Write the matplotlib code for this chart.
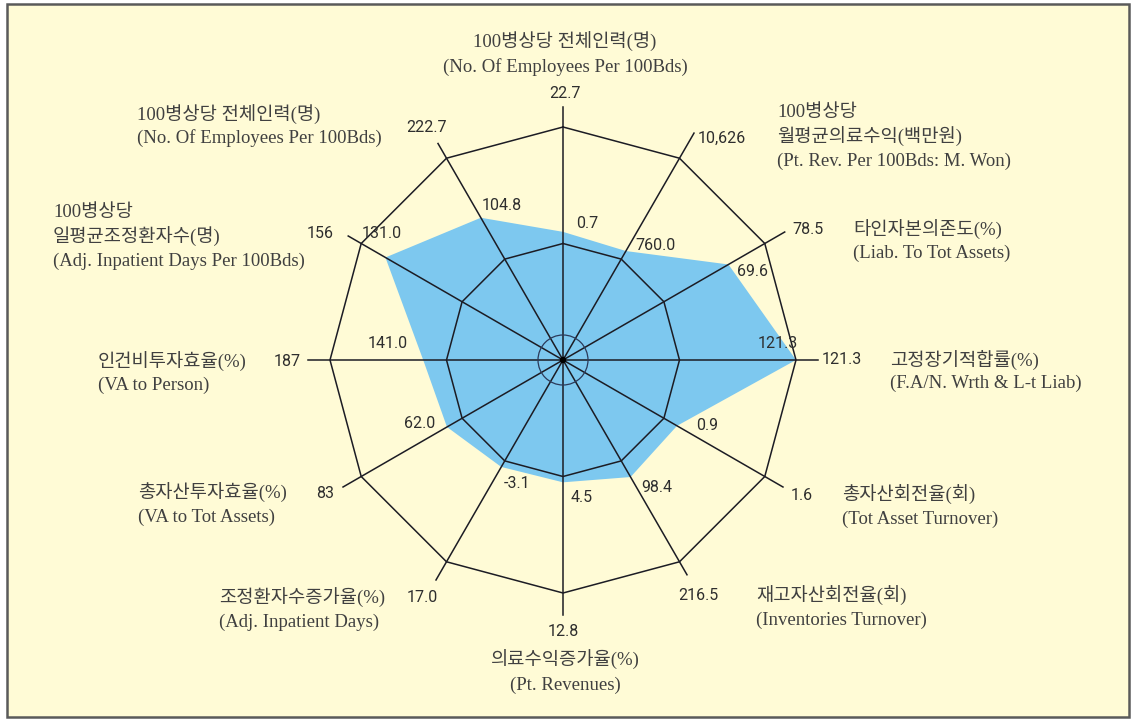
import numpy as np
import matplotlib.pyplot as plt
from matplotlib.patches import Rectangle, Circle

# 12 axes, clockwise from the top
outer_labels = ["22.7", "10,626", "78.5", "121.3", "1.6", "216.5",
                "12.8", "17.0", "83", "187", "156", "222.7"]
inner_labels = ["0.7", "760.0", "69.6", "121.3", "0.9", "98.4",
                "4.5", "-3.1", "62.0", "141.0", "131.0", "104.8"]
# position of the blue polygon on each axis (1 = outer ring)
scores = [0.55, 0.54, 0.82, 1.00, 0.565, 0.58, 0.525, 0.53, 0.575, 0.60, 0.88, 0.705]

categories = [
    ["100병상당 전체인력(명)", "(No. Of Employees Per 100Bds)"],
    ["100병상당", "월평균의료수익(백만원)", "(Pt. Rev. Per 100Bds: M. Won)"],
    ["타인자본의존도(%)", "(Liab. To Tot Assets)"],
    ["고정장기적합률(%)", "(F.A/N. Wrth & L-t Liab)"],
    ["총자산회전율(회)", "(Tot Asset Turnover)"],
    ["재고자산회전율(회)", "(Inventories Turnover)"],
    ["의료수익증가율(%)", "(Pt. Revenues)"],
    ["조정환자수증가율(%)", "(Adj. Inpatient Days)"],
    ["총자산투자효율(%)", "(VA to Tot Assets)"],
    ["인건비투자효율(%)", "(VA to Person)"],
    ["100병상당", "일평균조정환자수(명)", "(Adj. Inpatient Days Per 100Bds)"],
    ["100병상당 전체인력(명)", "(No. Of Employees Per 100Bds)"],
]

# layout (pixels)
W, H = 1132, 720
CX, CY, R = 563, 360, 233
spoke_len = [253, 262, 256, 255, 254, 248, 255, 254, 254, 255, 248, 250]
outer_pos = [(565, 93), (722, 138), (808, 230), (842, 360), (802, 495), (698, 596),
             (563, 632), (422, 598), (325, 493), (287, 361), (320, 233), (427, 127)]
inner_pos = [(587, 223), (655, 245), (752, 272), (778, 343), (707, 426), (657, 488),
             (582, 498), (517, 483), (420, 423), (388, 343), (382, 234), (502, 205)]
cat_pos = [(565, 42, "center"), (777, 113, "left"), (853, 230, "left"), (890, 360, "left"),
           (842, 495, "left"), (756, 596, "left"), (565, 660, "center"), (219, 598, "left"),
           (138, 493, "left"), (98, 362, "left"), (53, 213, "left"), (137, 115, "left")]
line_step = [25, 24, 23, 23, 24, 24, 25, 24, 24, 23, 24, 23]

BG = "#FFFBD6"
BLUE = "#7DC8EF"
INK = "#1c1c24"
TXT = "#2e2e2e"
serif_kr = ["Liberation Serif", "Noto Sans CJK KR"]

n = len(scores)
theta = np.deg2rad(np.arange(n) * 360 / n)
sx, sy = np.sin(theta), -np.cos(theta)


def to_xy(r):
    r = np.asarray(r, dtype=float)
    return CX + r * R * sx, CY + r * R * sy


fig = plt.figure(figsize=(W / 100, H / 100), dpi=100)
fig.patch.set_facecolor("white")
ax = fig.add_axes([0, 0, 1, 1])
ax.set_xlim(0, W)
ax.set_ylim(H, 0)
ax.axis("off")

ax.add_patch(Rectangle((7, 4), 1122, 713, facecolor=BG, edgecolor="#5a5a5a", lw=1.8, zorder=0))

# data polygon
px, py = to_xy(scores)
ax.fill(px, py, color=BLUE, zorder=1, lw=0)

# rings
for rr in (0.5, 1.0):
    gx, gy = to_xy(np.full(n, rr))
    ax.plot(np.append(gx, gx[0]), np.append(gy, gy[0]), color=INK, lw=1.1, zorder=2)

# spokes
for k in range(n):
    ax.plot([CX, CX + spoke_len[k] * sx[k]], [CY, CY + spoke_len[k] * sy[k]],
            color=INK, lw=1.1, zorder=2)

ax.add_patch(Circle((CX, CY), 25, fill=False, edgecolor="#2b3a5a", lw=0.9, zorder=2))
ax.add_patch(Circle((CX, CY), 2.5, color="black", zorder=3))

for k in range(n):
    ax.text(*outer_pos[k], outer_labels[k], fontsize=11.5, family="Roboto",
            color=TXT, ha="center", va="center", zorder=4)
    ax.text(*inner_pos[k], inner_labels[k], fontsize=11.5, family="Roboto",
            color=TXT, ha="center", va="center", zorder=4)
    x0, y0, ha = cat_pos[k]
    for j, line in enumerate(categories[k]):
        ax.text(x0, y0 + j * line_step[k], line, fontsize=13.5, family=serif_kr,
                color="#404040", ha=ha, va="center", zorder=4)

fig.savefig("out.png", dpi=100, facecolor="white")
